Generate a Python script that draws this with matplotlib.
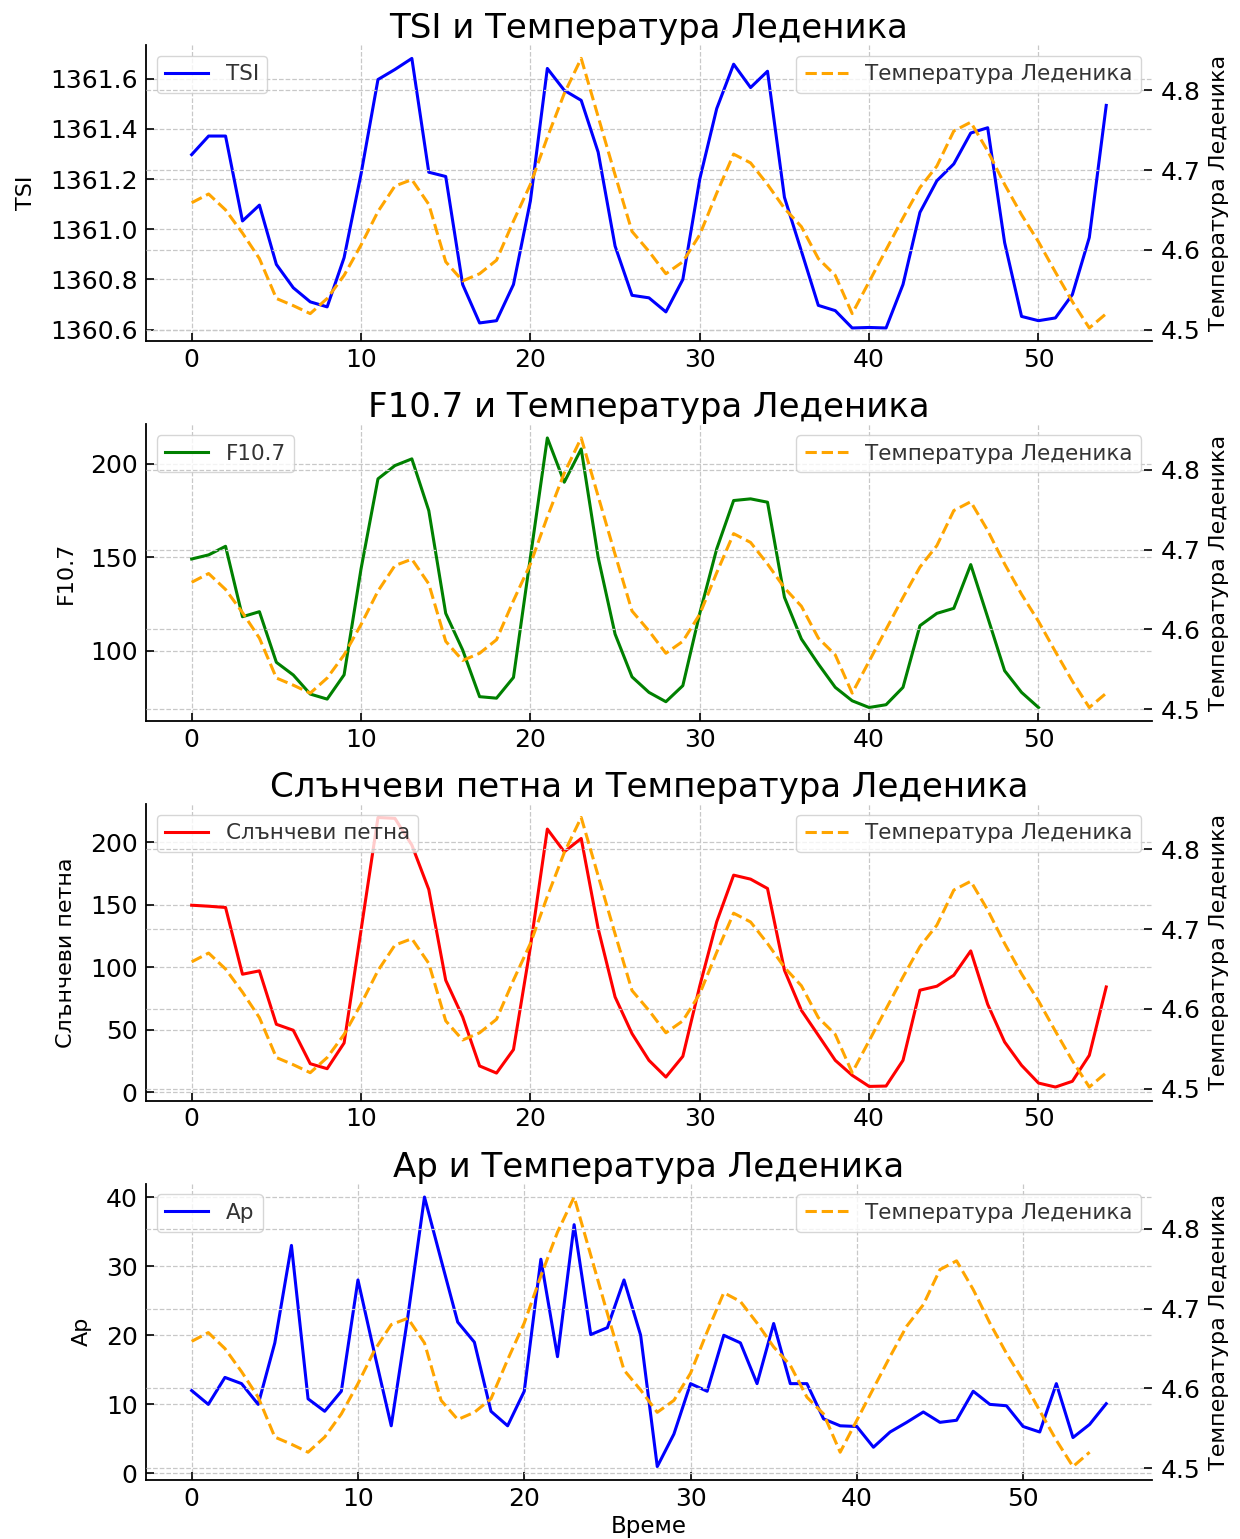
import matplotlib
matplotlib.use("Agg")
import matplotlib.pyplot as plt
from matplotlib.ticker import MultipleLocator, FormatStrFormatter
import numpy as np

# ── Data ───────────────────────────────────────────────────────────────────
temp = [4.659, 4.670, 4.650, 4.621, 4.589, 4.539, 4.530, 4.520, 4.539, 4.568,
        4.606, 4.648, 4.680, 4.688, 4.657, 4.585, 4.561, 4.570, 4.587, 4.636,
        4.682, 4.741, 4.796, 4.840, 4.767, 4.694, 4.623, 4.598, 4.570, 4.585,
        4.619, 4.671, 4.720, 4.709, 4.682, 4.652, 4.629, 4.589, 4.568, 4.520,
        4.560, 4.600, 4.640, 4.678, 4.705, 4.749, 4.760, 4.724, 4.682, 4.644,
        4.610, 4.572, 4.535, 4.502, 4.520]

tsi = [1361.297, 1361.371, 1361.371, 1361.033, 1361.096, 1360.860, 1360.767,
       1360.711, 1360.691, 1360.887, 1361.220, 1361.596, 1361.636, 1361.680,
       1361.227, 1361.210, 1360.780, 1360.627, 1360.636, 1360.780, 1361.113,
       1361.640, 1361.553, 1361.513, 1361.307, 1360.933, 1360.737, 1360.727,
       1360.671, 1360.800, 1361.200, 1361.480, 1361.657, 1361.564, 1361.629,
       1361.127, 1360.913, 1360.697, 1360.676, 1360.607, 1360.609, 1360.607,
       1360.780, 1361.067, 1361.193, 1361.260, 1361.383, 1361.404, 1360.947,
       1360.653, 1360.636, 1360.647, 1360.740, 1360.967, 1361.493]

f107 = [149.1, 151.3, 155.9, 118.2, 120.9, 93.8, 87.0, 76.8, 74.1, 87.1,
        143.8, 192.0, 199.1, 202.7, 175.0, 120.0, 100.4, 75.4, 74.6, 85.7,
        150.0, 213.9, 190.2, 208.0, 150.0, 108.9, 86.0, 77.7, 72.7, 81.3,
        120.0, 154.5, 180.4, 181.3, 179.5, 128.6, 106.3, 92.9, 80.4, 73.2,
        69.6, 71.1, 80.4, 113.4, 120.0, 122.7, 146.1, 117.9, 89.3, 77.7,
        69.6]

sunspots = [149.7, 148.9, 147.9, 94.4, 97.1, 54.3, 49.5, 22.7, 18.7, 39.3,
            129.7, 220.0, 219.3, 197.9, 162.3, 89.6, 60.2, 20.9, 15.2, 34.0,
            116.3, 210.7, 192.5, 203.2, 131.0, 76.2, 46.8, 25.4, 12.0, 28.6,
            85.0, 136.4, 173.8, 170.6, 163.1, 97.6, 65.5, 45.5, 25.4, 13.4,
            4.5, 4.8, 25.4, 81.6, 84.8, 93.6, 113.1, 70.3, 40.1, 21.4,
            7.2, 4.0, 8.6, 29.4, 84.2]

ap = [12.0, 10.0, 13.9, 13.0, 10.0, 18.9, 33.0, 10.8, 9.0, 11.9,
      28.0, 17.3, 6.9, 22.7, 40.0, 30.9, 21.9, 19.0, 9.0, 6.9,
      11.9, 31.0, 16.9, 36.0, 20.1, 21.1, 28.0, 20.0, 1.0, 5.7,
      13.0, 11.9, 20.0, 18.9, 13.0, 21.7, 13.0, 13.0, 7.9, 6.9,
      6.8, 3.8, 6.0, 7.4, 8.9, 7.4, 7.7, 11.9, 10.0, 9.8,
      6.8, 6.0, 13.0, 5.2, 7.1, 10.1]

PANELS = [
    ("TSI", tsi, "blue"),
    ("F10.7", f107, "green"),
    ("Слънчеви петна", sunspots, "red"),
    ("Ap", ap, "blue"),
]
TEMP_LABEL = "Температура Леденика"

# ── Style ──────────────────────────────────────────────────────────────────
plt.rcParams.update({
    "font.family": "DejaVu Sans",
    "xtick.direction": "in",
    "ytick.direction": "in",
    "xtick.major.size": 6,
    "ytick.major.size": 6,
    "xtick.major.width": 1.2,
    "ytick.major.width": 1.2,
    "xtick.major.pad": 5,
    "ytick.major.pad": 6,
    "axes.linewidth": 1.3,
    "xtick.labelsize": 18,
    "ytick.labelsize": 18,
})

fig, axes = plt.subplots(4, 1, figsize=(12.4, 15.39), dpi=100)
plt.subplots_adjust(left=0.1177, right=0.929, top=0.9708, bottom=0.0383,
                    hspace=0.28)

grid_kw = dict(linestyle="--", color="#c8c8c8", linewidth=0.9)
leg_kw = dict(fontsize=15.5, frameon=True, fancybox=True,
              edgecolor="#cccccc", framealpha=0.8, labelcolor="#333333")

for ax, (name, vals, color) in zip(axes, PANELS):
    x = np.arange(len(vals))
    ax.plot(x, vals, color=color, linewidth=2.2, label=name)
    ax.set_ylabel(name, fontsize=16, labelpad=10)
    ax.set_title(f"{name} и {TEMP_LABEL}", fontsize=24.5, pad=5)
    ax.grid(True, **grid_kw)
    ax.spines["top"].set_visible(False)
    ax.spines["right"].set_visible(False)
    ax.legend(loc="upper left", **leg_kw)

    ax2 = ax.twinx()
    xt = np.arange(len(temp))
    ax2.plot(xt, temp, color="orange", linestyle="--", linewidth=2.2,
             label=TEMP_LABEL)
    ax2.set_ylabel(TEMP_LABEL, fontsize=16, labelpad=6)
    ax2.grid(True, **grid_kw)
    for s in ["top", "right", "left", "bottom"]:
        ax2.spines[s].set_visible(False)
    ax2.legend(loc="upper right", **leg_kw)

# TSI axis: 0.2 steps, one decimal
axes[0].yaxis.set_major_locator(MultipleLocator(0.2))
axes[0].yaxis.set_major_formatter(FormatStrFormatter("%.1f"))

axes[-1].set_xlabel("Време", fontsize=16.5, labelpad=3)

plt.savefig("out.png", dpi=100)
